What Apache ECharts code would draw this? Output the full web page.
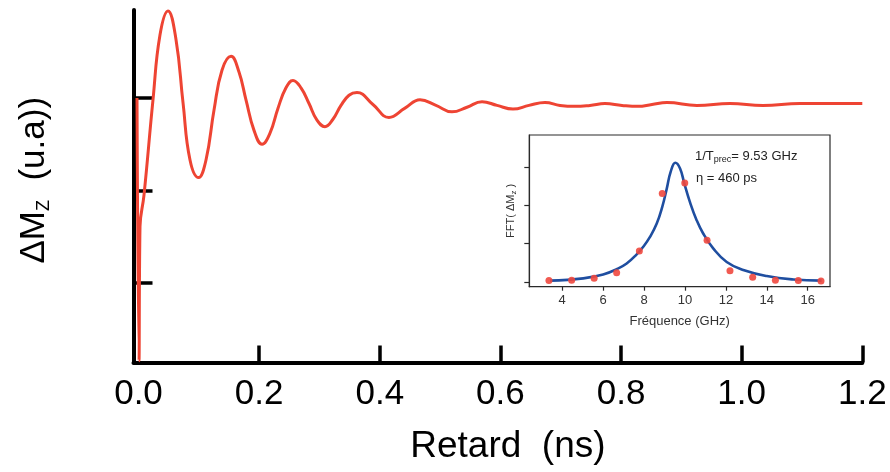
<!DOCTYPE html>
<html>
<head>
<meta charset="utf-8">
<script src="https://cdn.jsdelivr.net/npm/echarts@6/dist/echarts.min.js"></script>
<style>
html,body{margin:0;padding:0;background:#fff;}
#chart{width:890px;height:472px;}
</style>
</head>
<body>
<div id="chart"></div>
<script>
// ---- Main panel: ΔMz vs delay (ns) ----
const mainT = [-0.0025, 0.0008, 0.0025, 0.0091, 0.0240, 0.0356, 0.0489, 0.0622, 0.0738, 0.0854,
  0.0995, 0.1119, 0.1252, 0.1384, 0.1534, 0.1666, 0.1782, 0.1915, 0.2048, 0.2180,
  0.2313, 0.2445, 0.2561, 0.2694, 0.2827, 0.2959, 0.3092, 0.3224, 0.3357, 0.3490,
  0.3622, 0.3887, 0.4152, 0.4418, 0.4667, 0.4932, 0.5197,
  0.5446, 0.5695, 0.5944, 0.6209, 0.6474, 0.6739, 0.6988, 0.7237, 0.7485, 0.7734,
  0.8016, 0.8281, 0.8513, 0.8762, 0.9259, 0.9806, 1.0353, 1.0966, 1.2];
const mainV = [3.00, 0.16, 1.61, 1.95, 2.98, 3.68, 3.94, 3.63, 2.95, 2.33,
  2.14, 2.33, 2.87, 3.30, 3.45, 3.28, 2.98, 2.65, 2.50, 2.62,
  2.89, 3.11, 3.19, 3.11, 2.94, 2.76, 2.69, 2.77, 2.92, 3.03,
  3.06, 2.93, 2.79, 2.89, 2.98, 2.92, 2.85,
  2.90, 2.96, 2.92, 2.88, 2.92, 2.95, 2.92, 2.91, 2.92, 2.94,
  2.92, 2.91, 2.93, 2.95, 2.92, 2.94, 2.92, 2.94, 2.94];
const mainXTicks = [0, 0.2, 0.4, 0.6, 0.8, 1.0, 1.2];
const mainYTicks = [1, 2, 3];

// ---- Inset: FFT spectrum ----
const fftFreq = [3.35, 4.46, 5.56, 6.66, 7.77, 8.89, 9.99, 11.08, 12.20, 13.31, 14.42, 15.54, 16.65];
const fftAmp  = [0.03, 0.04, 0.09, 0.24, 0.81, 2.32, 2.60, 1.09, 0.29, 0.12, 0.04, 0.03, 0.02];
const fitFreq = [3.4, 5.03, 6.0, 6.66, 7.15, 7.64, 7.96, 8.29, 8.62, 8.89, 9.11, 9.30, 9.53,
  9.76, 9.97, 10.24, 10.57, 10.89, 11.38, 12.04, 12.85, 14.0, 15.3, 16.68];
const fitAmp  = [0.03, 0.09, 0.19, 0.33, 0.48, 0.72, 0.92, 1.18, 1.53, 1.97, 2.45, 2.89, 3.13,
  2.98, 2.58, 2.10, 1.62, 1.27, 0.88, 0.52, 0.31, 0.15, 0.06, 0.03];
const insetXTicks = [4, 6, 8, 10, 12, 14, 16];
const insetYTicks = [0, 1, 2, 3];

const FONT = '"Liberation Sans", Arial, Helvetica, sans-serif';
const mainData = mainT.map((t, i) => [t, mainV[i]]);
const fftData = fftFreq.map((f, i) => [f, fftAmp[i]]);
const fitData = fitFreq.map((f, i) => [f, fitAmp[i]]);

const chart = echarts.init(document.getElementById('chart'), null, {renderer: 'canvas'});
chart.setOption({
  backgroundColor: '#ffffff',
  animation: false,
  grid: [
    {left: 133.5, right: 27.7, top: 10, bottom: 109.5, show: false},
    {left: 529.3, top: 135, width: 300.7, height: 151.7, show: true, borderColor: '#2a2a2a', borderWidth: 1.2, backgroundColor: 'transparent'}
  ],
  xAxis: [
    {
      gridIndex: 0, type: 'value', min: -0.0083, max: 1.2,
      splitLine: {show: false},
      axisLine: {show: true, onZero: false, lineStyle: {color: '#000', width: 4}},
      axisTick: {show: true, inside: true, length: 17, customValues: mainXTicks.slice(1), lineStyle: {color: '#000', width: 3.5}},
      axisLabel: {show: true, customValues: mainXTicks, margin: 14, fontSize: 35, color: '#000', fontFamily: FONT,
        formatter: v => Number(v).toFixed(1)},
      name: 'Retard  (ns)', nameLocation: 'middle', nameGap: 66,
      nameTextStyle: {fontSize: 37, color: '#000', fontFamily: FONT, padding: [0, 0, 0, 20]}
    },
    {
      gridIndex: 1, type: 'value', min: 2.39, max: 17.09,
      splitLine: {show: false},
      axisLine: {show: true, onZero: false, lineStyle: {color: '#2a2a2a', width: 1.2}},
      axisTick: {show: true, inside: false, length: 4, customValues: insetXTicks, lineStyle: {color: '#2a2a2a', width: 1.2}},
      axisLabel: {show: true, customValues: insetXTicks, margin: 7, fontSize: 13, color: '#333', fontFamily: FONT},
      name: 'Fréquence (GHz)', nameLocation: 'middle', nameGap: 28,
      nameTextStyle: {fontSize: 13, color: '#333', fontFamily: FONT}
    }
  ],
  yAxis: [
    {
      gridIndex: 0, type: 'value', min: 0.141, max: 3.951,
      splitLine: {show: false},
      axisLine: {show: true, onZero: false, lineStyle: {color: '#000', width: 4}},
      axisTick: {show: true, inside: true, length: 19, customValues: mainYTicks, lineStyle: {color: '#000', width: 3.5}},
      axisLabel: {show: false},
      name: '{m|ΔM}{s|Z}{m|  (u.a))}', nameLocation: 'middle', nameGap: 80,
      nameTextStyle: {
        color: '#000', fontFamily: FONT, padding: [0, 0, 0, 12],
        rich: {
          m: {fontSize: 35, lineHeight: 38, color: '#000', fontFamily: FONT},
          s: {fontSize: 18, lineHeight: 18, verticalAlign: 'bottom', color: '#000', fontFamily: FONT}
        }
      }
    },
    {
      gridIndex: 1, type: 'value', min: -0.13, max: 3.86,
      splitLine: {show: false},
      axisLine: {show: true, onZero: false, lineStyle: {color: '#2a2a2a', width: 1.2}},
      axisTick: {show: true, inside: false, length: 5, customValues: insetYTicks, lineStyle: {color: '#2a2a2a', width: 1.2}},
      axisLabel: {show: false},
      name: '{m|FFT( ΔM}{s|z}{m| )}', nameLocation: 'middle', nameGap: 12,
      nameTextStyle: {
        color: '#333', fontFamily: FONT,
        rich: {
          m: {fontSize: 11, lineHeight: 13, color: '#333', fontFamily: FONT},
          s: {fontSize: 8, lineHeight: 8, verticalAlign: 'bottom', color: '#333', fontFamily: FONT}
        }
      }
    }
  ],
  series: [
    {
      type: 'line', xAxisIndex: 0, yAxisIndex: 0, data: mainData,
      showSymbol: false, smooth: 0.45,
      lineStyle: {color: '#ee4433', width: 3}, z: 3
    },
    {
      type: 'line', xAxisIndex: 1, yAxisIndex: 1, data: fitData,
      showSymbol: false, smooth: 0.45,
      lineStyle: {color: '#1f4ea0', width: 2.6}, z: 4
    },
    {
      type: 'scatter', xAxisIndex: 1, yAxisIndex: 1, data: fftData,
      symbol: 'circle', symbolSize: 7,
      itemStyle: {color: '#f0483e', opacity: 0.9}, z: 5
    }
  ],
  graphic: [
    {
      type: 'text', left: 695, top: 150, z: 10,
      style: {
        text: '{m|1/T}{s|prec}{m|= 9.53 GHz}',
        rich: {
          m: {fontSize: 13, lineHeight: 16, fill: '#222', fontFamily: FONT},
          s: {fontSize: 9, lineHeight: 10, verticalAlign: 'bottom', fill: '#222', fontFamily: FONT}
        }
      }
    },
    {
      type: 'text', left: 696, top: 172, z: 10,
      style: {text: 'η = 460 ps', fontSize: 13, fill: '#222', fontFamily: FONT}
    }
  ]
});
</script>
</body>
</html>
